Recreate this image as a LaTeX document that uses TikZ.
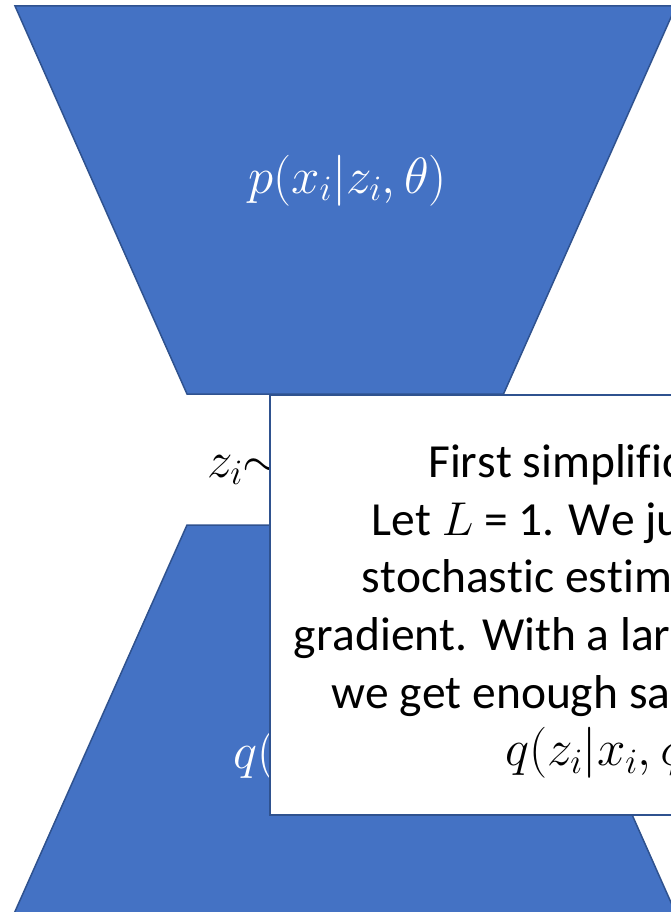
\RequirePackage{fix-cm}
\documentclass[tikz,border=0pt]{standalone}
\usepackage{fontspec}
\setmainfont{Carlito}[Ligatures=NoCommon,Kerning=Off]
\definecolor{pptblue}{HTML}{4472C4}
\definecolor{pptedge}{HTML}{2F528F}
\begin{document}
\begin{tikzpicture}[x=1pt,y=-1pt,
  trap/.style={fill=pptblue,draw=pptedge,line width=1.5pt,line join=miter},
  notebox/.style={fill=white,draw=pptedge,line width=1.3pt},
  bigtxt/.style={inner sep=0pt,anchor=base west,font=\fontsize{47.5}{57}\selectfont},
  bigmath/.style={inner sep=0pt,anchor=base west,font=\fontsize{51}{60}\selectfont},
  whitemath/.style={bigmath,text=white},
  boxline/.style={bigtxt,text=black}]
\useasboundingbox (0,0) rectangle (671,912);
\clip (0,0) rectangle (671,912);
% decoder (top) and encoder (bottom) trapezoids
\draw[trap] (15,6) -- (676,6) -- (503.5,394) -- (187,394) -- cycle;
\draw[trap] (187,525) -- (503.5,525) -- (677,916) -- (13,916) -- cycle;
% labels
\node[whitemath] (plabel) at (248,193.3) {$p(x_i|z_i,\theta)$};
\node[whitemath] (qlabel) at (233,768) {$q(z_i|x_i,\phi)$};
\node[bigmath] (zlabel) at (207,477.3) {$z_i\mathord{\sim}q(z_i|x_i,\phi)$};
% note box
\draw[notebox] (270,395) rectangle (1000,815);
\node[boxline] (l1) at (428,477.3) {First simplification:};
\node[boxline] (l2) at (371.3,535) {Let $L$ = 1. We just want a};
\node[boxline] (l3) at (361.4,592.7) {stochastic estimate of the};
\node[boxline] (l4) at (293.6,650.4) {gradient. With a large batch};
\node[boxline] (l5) at (331.2,708) {we get enough samples from};
\node[bigmath] (l6) at (505,765.7) {$q(z_i|x_i,\phi)$};
\end{tikzpicture}
\end{document}
